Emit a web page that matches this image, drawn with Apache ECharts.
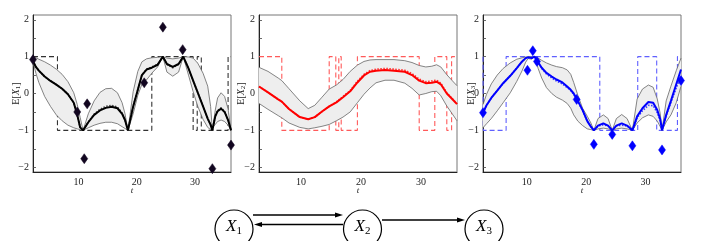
<!DOCTYPE html>
<html><head><meta charset="utf-8">
<script src="https://cdn.jsdelivr.net/npm/echarts@6/dist/echarts.min.js"></script>
<style>html,body{margin:0;padding:0;background:#fff}#c{width:706px;height:241px}</style>
</head><body><div id="c"></div>
<script>
// ---------------- Panel 1 : E[X1] ----------------
const T1 = [2.2, 2.7, 3.2, 4.2, 5.2, 6.2, 7.2, 8.2, 9.2, 9.8, 10.3, 10.8, 11.7, 12.7, 13.7, 14.7, 15.7, 16.7, 17.5, 18.0, 18.5, 19.4, 20.2, 20.9, 21.7, 22.6, 23.6, 24.5, 25.2, 26.2, 27.2, 28.0, 28.9, 29.7, 30.5, 31.4, 32.2, 32.7, 33.0, 33.5, 33.9, 34.5, 35.1, 35.7, 36.2];
const MEAN1 = [0.88, 0.72, 0.62, 0.46, 0.34, 0.24, 0.13, -0.02, -0.25, -0.58, -0.92, -1.0, -0.78, -0.58, -0.46, -0.39, -0.36, -0.4, -0.55, -0.72, -1.0, -0.35, 0.1, 0.5, 0.65, 0.70, 0.78, 1.0, 0.8, 0.72, 0.8, 1.0, 0.68, 0.35, 0.02, -0.35, -0.68, -0.85, -1.0, -0.62, -0.48, -0.41, -0.5, -0.72, -1.0];
const DOT1 = [0.88, 0.72, 0.62, 0.46, 0.34, 0.24, 0.13, -0.02, -0.25, -0.58, -0.92, -1.0, -0.77, -0.56, -0.43, -0.35, -0.32, -0.37, -0.53, -0.71, -1.0, -0.35, 0.1, 0.5, 0.66, 0.72, 0.79, 1.0, 0.79, 0.70, 0.79, 1.0, 0.68, 0.35, 0.02, -0.35, -0.68, -0.85, -1.0, -0.61, -0.46, -0.39, -0.49, -0.72, -1.0];
const UP1 = [1.0, 0.97, 0.93, 0.86, 0.77, 0.66, 0.52, 0.32, 0.02, -0.3, -0.65, -1.0, -0.55, -0.2, 0.03, 0.13, 0.14, 0.02, -0.25, -0.55, -1.0, 0.05, 0.6, 0.86, 0.94, 0.97, 0.98, 1.0, 0.96, 0.94, 0.96, 1.0, 0.99, 0.96, 0.82, 0.55, 0.2, -0.35, -1.0, -0.45, -0.12, 0.02, -0.08, -0.42, -1.0];
const LO1 = [0.86, 0.55, 0.3, -0.08, -0.35, -0.58, -0.74, -0.86, -0.93, -0.96, -0.98, -1.0, -0.93, -0.86, -0.81, -0.78, -0.78, -0.82, -0.9, -0.95, -1.0, -0.55, -0.05, 0.25, 0.37, 0.55, 0.72, 1.0, 0.58, 0.47, 0.58, 1.0, 0.5, 0.05, -0.35, -0.7, -0.92, -0.98, -1.0, -0.84, -0.76, -0.72, -0.76, -0.86, -1.0];
const STEP_T1 = [2.2, 6.4, 22.6, 29.7, 30.4, 31.1, 35.7, 36.2];
const STEP_V1 = [1, -1, 1, -1, 1, -1, 1, 1];
const OBS_T1 = [2.2, 9.8, 11.0, 11.5, 21.3, 24.5, 27.9, 33.0, 36.2];
const OBS_V1 = [0.92, -0.5, -1.77, -0.28, 0.29, 1.80, 1.19, -2.04, -1.40];

// ---------------- Panel 2 : E[X2] ----------------
const T2 = [3.0, 4.5, 6.2, 6.8, 8.0, 9.8, 11.2, 12.3, 13.5, 14.7, 15.9, 17.0, 18.2, 19.4, 20.5, 21.5, 22.5, 24.0, 25.5, 27.3, 28.5, 29.7, 30.8, 31.8, 32.6, 33.3, 34.3, 35.2, 36.0];
const MEAN2 = [0.19, 0.03, -0.16, -0.22, -0.42, -0.64, -0.70, -0.64, -0.49, -0.35, -0.24, -0.1, 0.06, 0.3, 0.49, 0.59, 0.62, 0.64, 0.62, 0.59, 0.5, 0.35, 0.28, 0.29, 0.32, 0.25, 0.0, -0.15, -0.29];
const DOT2 = [0.19, 0.03, -0.16, -0.22, -0.42, -0.64, -0.70, -0.64, -0.49, -0.35, -0.23, -0.08, 0.08, 0.33, 0.52, 0.62, 0.66, 0.68, 0.66, 0.63, 0.54, 0.39, 0.32, 0.34, 0.36, 0.28, 0.02, -0.14, -0.28];
const UP2 = [0.71, 0.6, 0.42, 0.35, 0.13, -0.2, -0.41, -0.32, -0.1, 0.12, 0.23, 0.38, 0.6, 0.77, 0.87, 0.91, 0.92, 0.92, 0.92, 0.89, 0.84, 0.76, 0.72, 0.74, 0.78, 0.72, 0.51, 0.35, 0.21];
const LO2 = [-0.27, -0.43, -0.6, -0.66, -0.8, -0.92, -0.96, -0.93, -0.89, -0.84, -0.74, -0.64, -0.5, -0.25, -0.02, 0.15, 0.29, 0.36, 0.36, 0.28, 0.14, -0.04, 0.0, 0.05, 0.06, -0.06, -0.34, -0.55, -0.74];
const STEP_T2 = [3.0, 6.8, 14.7, 15.8, 16.3, 16.7, 19.4, 29.7, 32.3, 34.3, 35.1, 36.0];
const STEP_V2 = [1, -1, 1, -1, 1, -1, 1, -1, 1, -1, 1, 1];

// ---------------- Panel 3 : E[X3] ----------------
const T3 = [2.6, 3.2, 4.0, 5.0, 6.0, 7.2, 8.3, 9.2, 9.8, 10.2, 10.8, 11.3, 11.9, 12.5, 13.3, 14.2, 15.0, 16.0, 16.8, 17.4, 17.9, 18.6, 19.4, 20.2, 20.8, 21.3, 22.0, 22.9, 23.7, 24.4, 25.1, 26.0, 26.9, 27.8, 28.6, 29.5, 30.5, 31.3, 32.0, 32.5, 32.8, 33.5, 34.3, 35.2, 36.0];
const MEAN3 = [-0.52, -0.32, -0.12, 0.08, 0.28, 0.48, 0.69, 0.87, 0.96, 0.98, 0.96, 1.0, 0.85, 0.7, 0.56, 0.46, 0.38, 0.3, 0.19, 0.1, 0.0, -0.2, -0.45, -0.75, -0.9, -1.0, -0.87, -0.81, -0.87, -1.0, -0.87, -0.81, -0.87, -1.0, -0.62, -0.4, -0.23, -0.25, -0.45, -0.7, -1.0, -0.58, -0.2, 0.25, 0.65];
const DOT3 = [-0.52, -0.32, -0.12, 0.08, 0.28, 0.48, 0.69, 0.87, 0.96, 0.98, 0.96, 1.0, 0.84, 0.68, 0.53, 0.42, 0.34, 0.26, 0.16, 0.08, -0.02, -0.22, -0.46, -0.76, -0.9, -1.0, -0.88, -0.85, -0.88, -1.0, -0.88, -0.86, -0.88, -1.0, -0.66, -0.47, -0.32, -0.33, -0.52, -0.74, -1.0, -0.6, -0.24, 0.15, 0.48];
const UP3 = [-0.3, -0.02, 0.26, 0.5, 0.68, 0.83, 0.93, 0.97, 0.99, 1.0, 0.99, 1.0, 0.96, 0.9, 0.83, 0.77, 0.73, 0.7, 0.64, 0.52, 0.3, -0.05, -0.4, -0.62, -0.8, -1.0, -0.68, -0.58, -0.68, -1.0, -0.68, -0.57, -0.68, -1.0, -0.15, 0.12, 0.23, 0.17, -0.15, -0.55, -1.0, -0.2, 0.2, 0.62, 0.96];
const LO3 = [-0.93, -0.82, -0.68, -0.47, -0.25, 0.02, 0.33, 0.62, 0.85, 0.95, 0.93, 1.0, 0.68, 0.42, 0.16, 0.0, -0.1, -0.18, -0.27, -0.4, -0.58, -0.75, -0.87, -0.96, -0.98, -1.0, -0.96, -0.94, -0.96, -1.0, -0.96, -0.94, -0.96, -1.0, -0.8, -0.66, -0.58, -0.62, -0.75, -0.9, -1.0, -0.77, -0.58, -0.25, 0.2];
const STEP_T3 = [2.6, 2.65, 6.5, 22.3, 28.7, 31.9, 35.4, 36.0];
const STEP_V3 = [1, -1, 1, -1, 1, -1, 1, 1];
const OBS_T3 = [2.6, 10.1, 11.0, 11.7, 18.4, 21.3, 24.4, 27.8, 32.8, 36.0];
const OBS_V3 = [-0.52, 0.63, 1.16, 0.87, -0.16, -1.38, -1.11, -1.42, -1.53, 0.35];

// ---------------- Axis ticks ----------------
const X_LABELS = [10, 20, 30];
const Y_LABELS = [-2, -1, 0, 1, 2];
const Y_TICKS = [-2, -1.5, -1, -0.5, 0, 0.5, 1, 1.5, 2];
const NODE_LABELS = ['1', '2', '3'];

const FONT = 'Liberation Serif';
const chart = echarts.init(document.getElementById('c'), null, {renderer: 'canvas'});

const panels = [
  {left: 33, min: 2.2, max: 36.2, t: T1, up: UP1, lo: LO1, mean: MEAN1, dot: DOT1, st: STEP_T1, sv: STEP_V1, ot: OBS_T1, ov: OBS_V1,
   color: '#000000', dotColor: '#444444', dash: '#333333', obsColor: '#120620', sub: '1', gap: 11},
  {left: 259, min: 3.0, max: 36.0, t: T2, up: UP2, lo: LO2, mean: MEAN2, dot: DOT2, st: STEP_T2, sv: STEP_V2, ot: [], ov: [],
   color: '#ff0000', dotColor: '#ff3030', dash: '#ff5a5a', obsColor: '#ff0000', sub: '2', gap: 12},
  {left: 483, min: 2.6, max: 36.0, t: T3, up: UP3, lo: LO3, mean: MEAN3, dot: DOT3, st: STEP_T3, sv: STEP_V3, ot: OBS_T3, ov: OBS_V3,
   color: '#0000ff', dotColor: '#3a3aff', dash: '#6060ff', obsColor: '#0000ff', sub: '3', gap: 6}
];

const grids = [], xAxes = [], yAxes = [], series = [];
const fmt = v => (v < 0 ? '\u2212' + Math.abs(v) : String(v));

panels.forEach((p, i) => {
  grids.push({left: p.left, top: 15, width: 198, height: 157, show: true, borderColor: '#777', borderWidth: 1, backgroundColor: 'transparent'});
  xAxes.push({
    type: 'value', gridIndex: i, min: p.min, max: p.max,
    axisLine: {show: true, onZero: false, lineStyle: {color: '#222', width: 1}},
    axisTick: {show: false}, splitLine: {show: false},
    axisLabel: {customValues: X_LABELS, fontFamily: FONT, fontSize: 10, color: '#222', margin: 5},
    name: 't', nameLocation: 'middle', nameGap: 14, nameMoveOverlap: false,
    nameTextStyle: {fontFamily: FONT, fontStyle: 'italic', fontSize: 9, color: '#222'}
  });
  yAxes.push({
    type: 'value', gridIndex: i, min: -2.13, max: 2.13,
    axisLine: {show: true, onZero: false, lineStyle: {color: '#222', width: 1}},
    axisTick: {show: true, inside: true, length: 3, customValues: Y_TICKS, lineStyle: {color: '#444', width: 0.8}},
    splitLine: {show: false},
    axisLabel: {customValues: Y_LABELS, formatter: fmt, fontFamily: FONT, fontSize: 10, color: '#222', margin: 4},
    name: '{n|E[}{i|X}{s|' + p.sub + '}{n|]}', nameLocation: 'middle', nameRotate: 90, nameGap: p.gap, nameMoveOverlap: false,
    nameTextStyle: {fontFamily: FONT, fontSize: 10, color: '#222',
      rich: {n: {fontFamily: FONT, fontSize: 10, color: '#222'},
             i: {fontFamily: FONT, fontSize: 10, fontStyle: 'italic', color: '#222'},
             s: {fontFamily: FONT, fontSize: 7, color: '#222', padding: [4, 0, 0, 0]}}}
  });
  series.push({type: 'line', xAxisIndex: i, yAxisIndex: i, step: 'end', symbol: 'none', silent: true,
    data: p.st.map((t, k) => [t, p.sv[k]]),
    lineStyle: {color: p.dash, width: 1.1, type: [5, 3]}, z: 2});
  series.push({type: 'custom', xAxisIndex: i, yAxisIndex: i, silent: true, z: 3,
    data: [[p.t[0], p.up[0]]],
    renderItem: (params, api) => {
      const pts = [];
      for (let k = 0; k < p.t.length; k++) pts.push(api.coord([p.t[k], p.up[k]]));
      for (let k = p.t.length - 1; k >= 0; k--) pts.push(api.coord([p.t[k], p.lo[k]]));
      return {type: 'polygon', shape: {points: pts}, style: {fill: '#eeeeee', stroke: null}};
    }});
  series.push({type: 'line', xAxisIndex: i, yAxisIndex: i, symbol: 'none', silent: true, z: 4,
    data: p.t.map((t, k) => [t, p.up[k]]), lineStyle: {color: '#666', width: 0.8}});
  series.push({type: 'line', xAxisIndex: i, yAxisIndex: i, symbol: 'none', silent: true, z: 4,
    data: p.t.map((t, k) => [t, p.lo[k]]), lineStyle: {color: '#666', width: 0.8}});
  series.push({type: 'line', xAxisIndex: i, yAxisIndex: i, symbol: 'none', silent: true, z: 5,
    data: p.t.map((t, k) => [t, p.dot[k]]), lineStyle: {color: p.dotColor, width: 1.6, type: [1.5, 1.5]}});
  series.push({type: 'line', xAxisIndex: i, yAxisIndex: i, symbol: 'none', silent: true, z: 6,
    data: p.t.map((t, k) => [t, p.mean[k]]), lineStyle: {color: p.color, width: 2}});
  if (p.ot.length) {
    series.push({type: 'scatter', xAxisIndex: i, yAxisIndex: i, symbol: 'diamond', symbolSize: [7, 10], clip: false, silent: true, z: 7,
      data: p.ot.map((t, k) => [t, p.ov[k]]), itemStyle: {color: p.obsColor, opacity: 1, borderColor: p.obsColor, borderWidth: 0.5}});
  }
});

// ---------------- Graphical model diagram ----------------
const nodes = [{cx: 234, cy: 229}, {cx: 362.5, cy: 229}, {cx: 484, cy: 229}];
const graphic = [];
function arrow(x1, y1, x2, y2) {
  const dir = Math.sign(x2 - x1);
  graphic.push({type: 'line', shape: {x1: x1, y1: y1, x2: x2 - dir * 6, y2: y2}, style: {stroke: '#000', lineWidth: 1.4}});
  graphic.push({type: 'polygon', shape: {points: [[x2, y2], [x2 - dir * 8, y2 - 2.6], [x2 - dir * 8, y2 + 2.6]]}, style: {fill: '#000'}});
}
arrow(253, 215, 343, 215);
arrow(343, 224.5, 254, 224.5);
arrow(382, 220, 465, 220);
nodes.forEach((n, k) => {
  graphic.push({type: 'circle', shape: {cx: n.cx, cy: n.cy, r: 19}, style: {fill: '#fff', stroke: '#000', lineWidth: 1.2}});
  graphic.push({type: 'text', x: n.cx, y: n.cy - 2, style: {
    text: '{i|X}{s|' + NODE_LABELS[k] + '}', align: 'center', verticalAlign: 'middle',
    rich: {i: {fontFamily: FONT, fontStyle: 'italic', fontSize: 17, fill: '#000'},
           s: {fontFamily: FONT, fontSize: 11, fill: '#000', padding: [8, 0, 0, 0]}}}});
});

chart.setOption({
  animation: false,
  backgroundColor: '#fff',
  grid: grids, xAxis: xAxes, yAxis: yAxes, series: series,
  graphic: graphic
});
</script>
</body></html>
